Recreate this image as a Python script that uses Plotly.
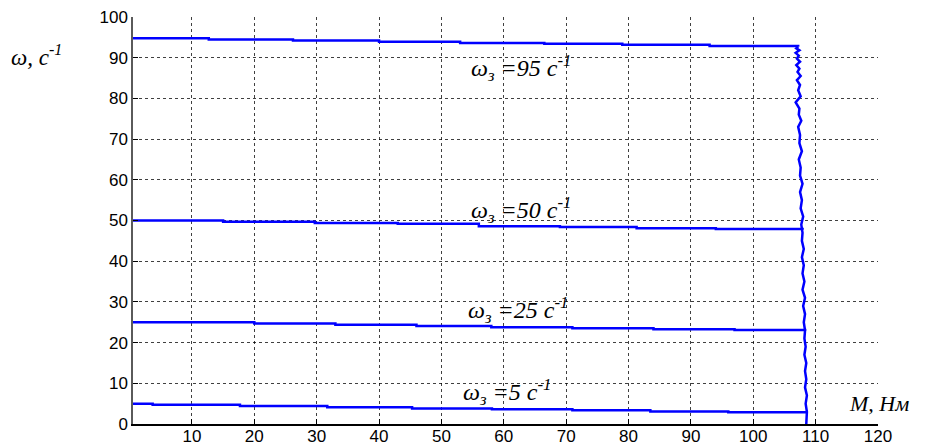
import plotly.graph_objects as go

# ---- data ----
x95 = [0.55, 12.7, 26.2, 40.0, 53.0, 66.5, 79.0, 93.0, 107.2]
y95 = [94.8, 94.5, 94.2, 93.9, 93.6, 93.4, 93.2, 92.9, 92.7]

x50 = [0.55, 15.0, 29.7, 43.0, 56.0, 69.0, 81.3, 94.0, 107.9]
y50 = [50.0, 49.7, 49.4, 49.2, 48.6, 48.4, 48.1, 47.9, 47.7]

x25 = [0.55, 20.0, 33.0, 46.0, 58.0, 71.0, 84.0, 97.0, 108.3]
y25 = [25.0, 24.7, 24.4, 24.1, 23.8, 23.5, 23.3, 23.1, 22.9]

x5 = [0.55, 3.7, 17.7, 31.7, 45.3, 58.1, 71.0, 83.5, 96.0, 108.5]
y5 = [5.0, 4.7, 4.4, 4.1, 3.8, 3.6, 3.35, 3.1, 2.9, 2.7]

# limiting torque (noisy vertical part)
y_lim = [92.7, 92.3, 91.8, 91.2, 90.5, 89.8, 89.0, 88.2, 87.3, 86.5,
         85.5, 84.5, 83.3, 82.0, 80.5, 79.0, 77.5, 76.0, 74.5, 73.0,
         71, 69, 67, 65, 63, 61, 59, 57, 55, 53,
         51, 49, 47, 45, 43, 41, 39, 37, 35, 33,
         31, 29, 27, 25, 23, 21, 19, 17, 15, 13,
         11, 9, 7, 5, 3, 1, 0]
x_lim = [107.2, 106.9, 107.4, 106.8, 107.3, 107.0, 107.5, 106.9, 107.4, 107.1,
         107.6, 107.0, 107.5, 107.2, 107.6, 106.8, 107.4, 107.3, 107.7, 107.2,
         107.5, 107.4, 107.8, 107.3, 107.6, 107.5, 107.9, 107.5, 107.8, 107.6,
         108.0, 107.7, 107.9, 107.8, 108.1, 107.8, 108.1, 107.9, 108.2, 107.9,
         108.3, 108.0, 108.3, 108.1, 108.3, 108.2, 108.4, 108.2, 108.5, 108.3,
         108.5, 108.3, 108.6, 108.4, 108.6, 108.5, 108.5]

x_ticks = [10, 20, 30, 40, 50, 60, 70, 80, 90, 100, 110, 120]
y_ticks = [0, 10, 20, 30, 40, 50, 60, 70, 80, 90, 100]

labels = ["95", "50", "25", "5"]
label_x = [54.5, 54.5, 54.0, 53.2]
label_y = [87.5, 52.5, 28.0, 7.8]

BLUE = "rgb(0,0,255)"
fig = go.Figure()
for xs, ys in [(x95, y95), (x50, y50), (x25, y25), (x5, y5)]:
    fig.add_trace(go.Scatter(x=xs, y=ys, mode="lines", line_shape="hv",
                             line=dict(color=BLUE, width=2.5), showlegend=False,
                             hoverinfo="skip"))
fig.add_trace(go.Scatter(x=x_lim, y=y_lim, mode="lines",
                         line=dict(color=BLUE, width=2.5), showlegend=False,
                         hoverinfo="skip"))

serif = "Liberation Serif"
for t, lx, ly in zip(labels, label_x, label_y):
    fig.add_annotation(x=lx, y=ly, xref="x", yref="y", xanchor="left", yanchor="middle",
                       text=f"ω<sub>з</sub> ={t} с<sup>-1</sup>", showarrow=False,
                       font=dict(family=serif, size=24, color="black", style="italic"))

fig.add_annotation(x=115.0, y=1.5, xref="x", yref="y", xanchor="left", yanchor="bottom",
                   text="M, Нм", showarrow=False,
                   font=dict(family=serif, size=22, color="black", style="italic"))
fig.add_annotation(x=-0.167, y=90.5, xref="paper", yref="y", xanchor="left", yanchor="middle",
                   text="ω, с<sup>-1</sup>", showarrow=False,
                   font=dict(family=serif, size=23, color="black", style="italic"))

grid = dict(showgrid=True, gridcolor="rgba(0,0,0,0.75)", gridwidth=1, griddash="3px,3px",
            zeroline=False, ticks="inside", ticklen=5, tickcolor="black",
            tickfont=dict(family="Liberation Sans", size=17, color="black"),
            showline=True, mirror=False, automargin=False, ticklabeloverflow="allow")

fig.update_xaxes(range=[0.55, 120], tickvals=x_ticks, linecolor="black", linewidth=1.5,
                 ticklabelstandoff=-4, **grid)
fig.update_yaxes(range=[0, 100], tickvals=y_ticks, linecolor="rgb(90,90,90)", linewidth=1.5, **grid)

# the page body adds an 8px offset, so the figure is 8px smaller than the window
fig.update_layout(width=918, height=438, margin=dict(l=125, r=48, t=9, b=22),
                  plot_bgcolor="white", paper_bgcolor="white")

fig.write_html("out.html")
